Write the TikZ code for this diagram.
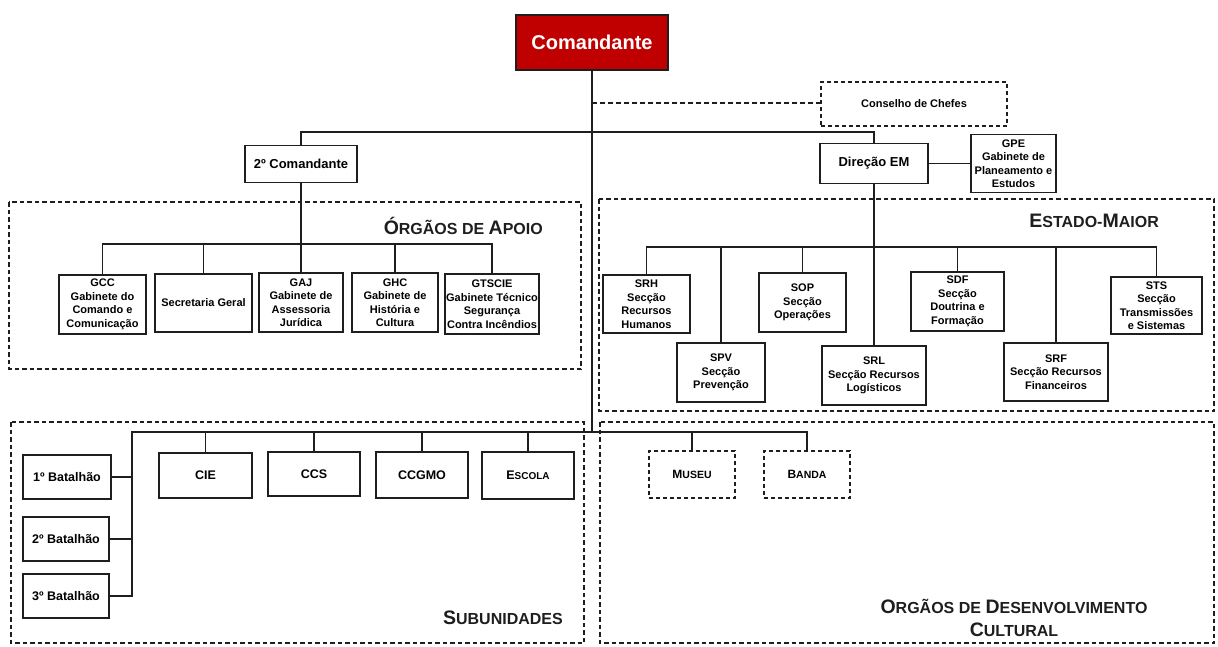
\documentclass[tikz,border=0pt]{standalone}
\usepackage{fontspec}
\setmainfont{Liberation Sans}
\definecolor{cmdred}{HTML}{C00000}
\definecolor{ink}{HTML}{1E1E1E}
\newcommand\Tbig[1]{{\fontsize{19.5}{20}\selectfont #1}}
\begin{document}
\begin{tikzpicture}[x=1pt,y=-1pt,
  box/.style={draw=ink, line width=1.3pt, align=center, inner sep=1pt,
    font=\bfseries\fontsize{11}{13.5}\selectfont},
  midbox/.style={box, font=\bfseries\fontsize{12.5}{14}\selectfont},
  dbox/.style={box, dashed, dash pattern=on 4pt off 3pt, line width=1.1pt},
  conn/.style={draw=ink, line width=1.2pt},
  dconn/.style={draw=ink, line width=1.2pt, dash pattern=on 5pt off 3pt},
  frame/.style={draw=ink, line width=1.1pt, dash pattern=on 4.5pt off 3pt},
  title/.style={inner sep=0pt, font=\bfseries\fontsize{16}{19}\selectfont, text=ink}
]
\useasboundingbox[fill=white] (0,0) rectangle (1218,646);

% frames
\draw[frame] (9,202) rectangle (581,369);
\draw[frame] (599,199) rectangle (1214,411);
\draw[frame] (11,422) rectangle (584,643);
\draw[frame] (600,422) rectangle (1214,643);

% titles
\node[title, anchor=east] (tapoio) at (543,226) {\Tbig{Ó}RGÃOS DE \Tbig{A}POIO};
\node[title, anchor=east] (testado) at (1159,221) {\Tbig{E}STADO-\Tbig{M}AIOR};
\node[title, anchor=east] (tsub) at (563,618) {\Tbig{S}UBUNIDADES};
\node[title, align=center, font=\bfseries\fontsize{16}{23.5}\selectfont] (todc) at (1014,618)
  {\Tbig{O}RGÃOS DE \Tbig{D}ESENVOLVIMENTO\\\Tbig{C}ULTURAL};

% top level
\node[box, fill=cmdred, text=white, minimum width=152pt, minimum height=55pt,
  font=\bfseries\fontsize{20}{22}\selectfont] (com) at (592,42.5) {Comandante};
\node[dbox, minimum width=186pt, minimum height=44pt] (cons) at (914,104) {Conselho de Chefes};
\node[midbox, minimum width=112pt, minimum height=37pt, font=\bfseries\fontsize{13}{15}\selectfont] (c2) at (301,164) {2º Comandante};
\node[midbox, minimum width=108pt, minimum height=40pt, font=\bfseries\fontsize{13}{15}\selectfont] (dir) at (874,163.5) {Direção EM};
\node[box, minimum width=85pt, minimum height=58pt] (gpe) at (1013.5,163.5) {GPE\\Gabinete de\\Planeamento e\\Estudos};

% orgaos de apoio
\node[box, minimum width=87pt, minimum height=59pt] (gcc) at (102.5,304.5) {GCC\\Gabinete do\\Comando e\\Comunicação};
\node[box, minimum width=97pt, minimum height=58pt] (sg) at (203.5,303) {Secretaria Geral};
\node[box, minimum width=84pt, minimum height=59pt] (gaj) at (301,302.5) {GAJ\\Gabinete de\\Assessoria\\Jurídica};
\node[box, minimum width=86pt, minimum height=59pt] (ghc) at (395,302.5) {GHC\\Gabinete de\\História e\\Cultura};
\node[box, minimum width=94pt, minimum height=60pt] (gts) at (492,304) {GTSCIE\\Gabinete Técnico\\Segurança\\Contra Incêndios};

% estado-maior
\node[box, minimum width=87pt, minimum height=58pt] (srh) at (646.5,304) {SRH\\Secção\\Recursos\\Humanos};
\node[box, minimum width=88pt, minimum height=59pt] (spv) at (721,372.5) {SPV\\Secção\\Prevenção};
\node[box, minimum width=87pt, minimum height=59pt] (sop) at (802.5,302.5) {SOP\\Secção\\Operações};
\node[box, minimum width=104pt, minimum height=59pt] (srl) at (874,375.5) {SRL\\Secção Recursos\\Logísticos};
\node[box, minimum width=93pt, minimum height=59pt] (sdf) at (957.5,301.5) {SDF\\Secção\\Doutrina e\\Formação};
\node[box, minimum width=104pt, minimum height=58pt] (srf) at (1056,372) {SRF\\Secção Recursos\\Financeiros};
\node[box, minimum width=91pt, minimum height=57pt] (sts) at (1156.5,305.5) {STS\\Secção\\Transmissões\\e Sistemas};

% subunidades
\node[midbox, minimum width=88pt, minimum height=44pt] (bat1) at (67,477) {1º Batalhão};
\node[midbox, minimum width=86pt, minimum height=44pt] (bat2) at (66,539) {2º Batalhão};
\node[midbox, minimum width=86pt, minimum height=44pt] (bat3) at (66,596) {3º Batalhão};
\node[midbox, minimum width=93pt, minimum height=45pt] (cie) at (205.5,475.5) {CIE};
\node[midbox, minimum width=92pt, minimum height=44pt] (ccs) at (314,474) {CCS};
\node[midbox, minimum width=92pt, minimum height=46pt] (ccgmo) at (422,475) {CCGMO};
\node[midbox, minimum width=92pt, minimum height=47pt] (escola) at (528,475.5) {E{\fontsize{10}{12}\selectfont SCOLA}};

% desenvolvimento cultural
\node[dbox, minimum width=86pt, minimum height=47pt, font=\bfseries\fontsize{10.5}{12}\selectfont] (museu) at (692,474.5) {{\fontsize{12}{12}\selectfont M}USEU};
\node[dbox, minimum width=86pt, minimum height=47pt, font=\bfseries\fontsize{10.5}{12}\selectfont] (banda) at (807,474.5) {{\fontsize{12}{12}\selectfont B}ANDA};

% junction coordinates
\coordinate (tb) at (0,132);
\coordinate (dj) at (0,103);
\coordinate (ab) at (0,244);
\coordinate (eb) at (0,247);
\coordinate (bb) at (0,432);
\coordinate (vx) at (132,0);

% connectors
\draw[conn] (com.south) -- (com.south |- bb);
\draw[dconn] (com.south |- dj) -- (cons.west |- dj);
\draw[conn] (c2.north) -- (c2.north |- tb) -- (dir.north |- tb) -- (dir.north);
\draw[conn] (dir.east) -- (dir.east -| gpe.west);

\draw[conn] (c2.south) -- (gaj.north);
\draw[conn] (gcc.north) -- (gcc.north |- ab) -- (gts.north |- ab) -- (gts.north);
\draw[conn] (sg.north) -- (sg.north |- ab);
\draw[conn] (ghc.north) -- (ghc.north |- ab);

\draw[conn] (dir.south) -- (srl.north);
\draw[conn] (srh.north) -- (srh.north |- eb) -- (sts.north |- eb) -- (sts.north);
\draw[conn] (spv.north) -- (spv.north |- eb);
\draw[conn] (sop.north) -- (sop.north |- eb);
\draw[conn] (sdf.north) -- (sdf.north |- eb);
\draw[conn] (srf.north) -- (srf.north |- eb);

\draw[conn] (bat3.east) -- (bat3.east -| vx) -- (vx |- bb) -- (banda.north |- bb) -- (banda.north);
\draw[conn] (bat1.east) -- (bat1.east -| vx);
\draw[conn] (bat2.east) -- (bat2.east -| vx);
\draw[conn] (cie.north) -- (cie.north |- bb);
\draw[conn] (ccs.north) -- (ccs.north |- bb);
\draw[conn] (ccgmo.north) -- (ccgmo.north |- bb);
\draw[conn] (escola.north) -- (escola.north |- bb);
\draw[conn] (museu.north) -- (museu.north |- bb);
\end{tikzpicture}
\end{document}
